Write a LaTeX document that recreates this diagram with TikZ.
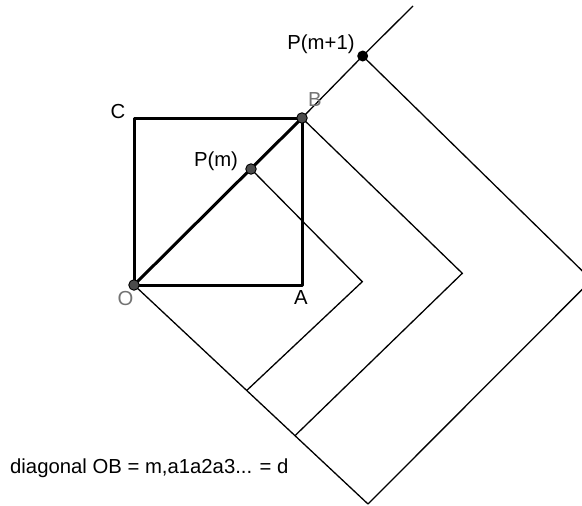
\documentclass[tikz,border=0pt]{standalone}
\usepackage{fontspec}
\setmainfont{Liberation Sans}
\usetikzlibrary{calc}
\begin{document}
\begin{tikzpicture}[x=1pt,y=-1pt,
  thickl/.style={line width=3pt,line cap=round,line join=round},
  thinl/.style={line width=1.3pt,line join=miter},
  gpt/.style={circle,draw=black,fill=black!70,line width=0.9pt,inner sep=0pt,minimum size=10.5pt},
  bpt/.style={circle,fill=black,inner sep=0pt,minimum size=11pt},
  lbl/.style={font=\fontsize{20.3}{23}\selectfont,inner sep=0pt},
  glbl/.style={lbl,text=black!55}]
\useasboundingbox (0,0) rectangle (582,506);
\clip (0,0) rectangle (582,506);
% coordinates
\coordinate (O) at (134,285);
\coordinate (A) at (302,285);
\coordinate (B) at (302,118);
\coordinate (C) at (134,118);
\coordinate (Pm) at (251,169);
\coordinate (Pm1) at (362.7,56);
\coordinate (top) at (413,6);
\coordinate (c1) at (362.3,281.7);
\coordinate (c2) at (462.3,273.3);
\coordinate (c3) at (591.6,280);
\coordinate (bot) at (368,504);
\coordinate (f1) at ($(O)!0.4816!(bot)$);
\coordinate (f2) at ($(O)!0.688!(bot)$);
% thin lines
\draw[thinl] (B) -- (Pm1) -- (top);
\draw[thinl] (Pm) -- (c1) -- (f1);
\draw[thinl] (B) -- (c2) -- (f2);
\draw[thinl] (Pm1) -- (c3) -- (bot);
\draw[thinl] (O) -- (bot);
% square and diagonal
\draw[thickl] (O) -- (A) -- (B) -- (C) -- cycle;
\draw[thickl] (O) -- (B);
% points
\node[gpt] (pO) at (O) {};
\node[gpt] (pPm) at (Pm) {};
\node[gpt] (pB) at (B) {};
\node[bpt] (pPm1) at (Pm1) {};
% labels
\node[lbl] (lC) at (118,112) {C};
\node[glbl] (lB) at (315,100) {B};
\node[lbl] (lPm) at (216,161) {P(m)};
\node[lbl] (lPm1) at (321,44) {P(m+1)};
\node[glbl] (lO) at (125.5,299) {O};
\node[lbl] (lA) at (301,298) {A};
\node[lbl,anchor=west] (txt) at (10,468) {diagonal OB = m,a1a2a3... = d};
\end{tikzpicture}
\end{document}
